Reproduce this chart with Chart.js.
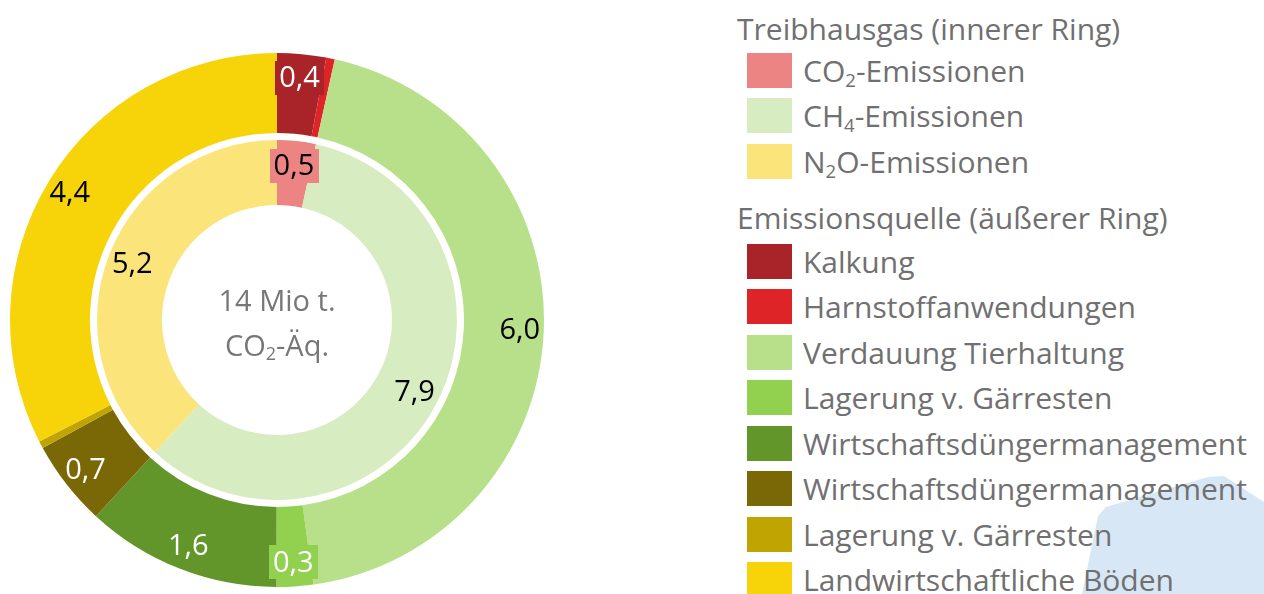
<!DOCTYPE html>
<html lang="de">
<head>
<meta charset="utf-8">
<script src="https://cdn.jsdelivr.net/npm/chart.js@4.4.1/dist/chart.umd.min.js"></script>
<style>
  html, body { margin: 0; padding: 0; background: #fff; }
  body { width: 1264px; height: 594px; position: relative; overflow: hidden;
         font-family: "Open Sans", "Noto Sans", sans-serif; color: #707070; }
  #blob { position: absolute; left: 0; top: 0; width: 1264px; height: 594px; background: #d7e7f5;
          clip-path: polygon(1082px 594px, 1098px 516px, 1106px 507px, 1208px 477px, 1224px 476px, 1264px 502px, 1264px 594px); }
  #chartBox { position: absolute; left: 10px; top: 53px; width: 534px; height: 534px; }
  #centerText { position: absolute; left: 137px; width: 280px; top: 277px; text-align: center;
                font-size: 29px; line-height: 45px; color: #777; }
  #legend { position: absolute; left: 737px; top: 6px; font-size: 30px; }
  #legend .head { height: 41.5px; line-height: 45.5px; white-space: nowrap; }
  #legend .head.second { margin-top: 11px; height: 43.5px; }
  #legend .item { height: 45.5px; line-height: 45.5px; white-space: nowrap; position: relative; padding-left: 66px; }
  #legend .sw { position: absolute; left: 10px; top: 5px; width: 45px; height: 35px; }
  sub { font-size: 62%; vertical-align: -0.25em; line-height: 0; }
</style>
</head>
<body>
<div id="blob"></div>
<div id="chartBox"><canvas id="ringChart"></canvas></div>
<div id="centerText">14 Mio t.<br>CO<sub>2</sub>-Äq.</div>
<div id="legend"></div>
<script>
// innerer Ring: Treibhausgase (Mio t CO2-Äq.)
const gasLabels = ['CO<sub>2</sub>-Emissionen', 'CH<sub>4</sub>-Emissionen', 'N<sub>2</sub>O-Emissionen'];
const gasValues = [0.47, 7.9, 5.16];
const gasColors = ['#ec8484', '#d8ecc2', '#fbe47a'];
const gasTextColors = ['#000', '#000', '#000'];

// äußerer Ring: Emissionsquellen
const sourceLabels = ['Kalkung', 'Harnstoffanwendungen', 'Verdauung Tierhaltung', 'Lagerung v. Gärresten',
  'Wirtschaftsdüngermanagement', 'Wirtschaftsdüngermanagement', 'Lagerung v. Gärresten', 'Landwirtschaftliche Böden'];
const sourceValues = [0.4, 0.07, 6.0, 0.3, 1.6, 0.7, 0.06, 4.4];
const sourceColors = ['#a82428', '#de2426', '#b8e08a', '#92d050', '#62962a', '#7a6806', '#bfa402', '#f7d409'];
const sourceTextColors = ['#fff', '#fff', '#000', '#fff', '#fff', '#fff', '#fff', '#000'];

function fmt(v) {
    return v.toFixed(1).replace('.', ',');
}

// legend (html, for the subscripts)
const legend = document.getElementById('legend');
let html = '<div class="head">Treibhausgas (innerer Ring)</div>';
gasLabels.forEach((l, i) => {
    html += '<div class="item"><span class="sw" style="background:' + gasColors[i] + '"></span>' + l + '</div>';
});
html += '<div class="head second">Emissionsquelle (äußerer Ring)</div>';
sourceLabels.forEach((l, i) => {
    html += '<div class="item"><span class="sw" style="background:' + sourceColors[i] + '"></span>' + l + '</div>';
});
legend.innerHTML = html;

// value labels on the rings; very small slices get a box in their own colour
const ringLabels = {
    id: 'ringLabels',
    afterDatasetsDraw(chart) {
        const ctx = chart.ctx;
        ctx.save();
        ctx.font = '29px "Open Sans", "Noto Sans", sans-serif';
        ctx.textAlign = 'center';
        ctx.textBaseline = 'middle';
        chart.data.datasets.forEach((ds, i) => {
            if (!ds.labelPos) return;
            const meta = chart.getDatasetMeta(i);
            meta.data.forEach((arc, j) => {
                const v = ds.data[j];
                if (v < 0.2) return;
                const mid = (arc.startAngle + arc.endAngle) / 2;
                const r = arc.innerRadius + (arc.outerRadius - arc.innerRadius) * ds.labelPos;
                const x = arc.x + Math.cos(mid) * r;
                const y = arc.y + Math.sin(mid) * r;
                const txt = fmt(v);
                if (v < 0.6) {
                    const w = ctx.measureText(txt).width + 8;
                    ctx.fillStyle = ds.backgroundColor[j];
                    ctx.fillRect(Math.round(x - w / 2), Math.round(y - 17), Math.round(w), 34);
                }
                ctx.fillStyle = ds.labelColors[j];
                ctx.fillText(txt, x, y + 1);
            });
        });
        ctx.restore();
    }
};

let chart;
window.addEventListener('load', function () {
    chart = new Chart(document.getElementById('ringChart').getContext('2d'), {
        type: 'doughnut',
        data: {
            labels: sourceLabels,
            datasets: [{
                label: 'Emissionsquelle',
                data: sourceValues,
                backgroundColor: sourceColors,
                labelColors: sourceTextColors,
                labelPos: 0.7,
                weight: 80
            }, {
                label: 'gap',
                data: [1],
                backgroundColor: ['rgba(0,0,0,0)'],
                weight: 7
            }, {
                label: 'Treibhausgas',
                data: gasValues,
                backgroundColor: gasColors,
                labelColors: gasTextColors,
                labelPos: 0.62,
                weight: 65
            }]
        },
        options: {
            responsive: true,
            maintainAspectRatio: false,
            animation: false,
            cutout: 115,
            hoverOffset: 0,
            layout: { padding: 0 },
            elements: { arc: { borderWidth: 0 } },
            plugins: {
                legend: { display: false },
                tooltip: { enabled: false }
            }
        },
        plugins: [ringLabels]
    });
});
</script>
</body>
</html>
